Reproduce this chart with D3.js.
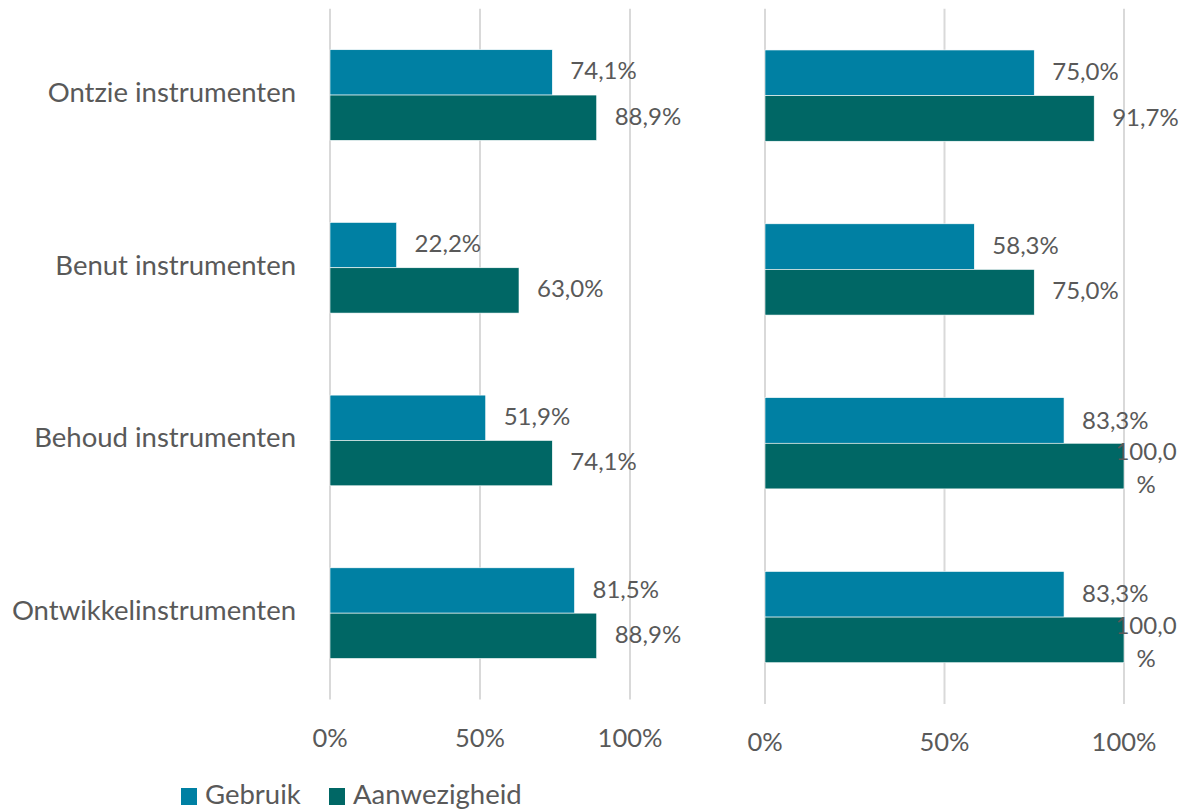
<!DOCTYPE html>
<html lang='nl'>
<head>
  <meta charset='UTF-8'>
  <title>Instrumenten</title>
  <style type='text/css'>
    body {
      margin: 0;
      background: #fff;
      font-family: Lato, sans-serif;
      color: #595959;
    }
    .grid line {
      stroke: #d9d9d9;
      stroke-width: 2px;
    }
    text {
      fill: #595959;
    }
  </style>
  <script type='text/javascript' src='https://d3js.org/d3.v7.min.js'></script>
</head>
<body>
  <script type='text/javascript'>
    const categories = [
      'Ontzie instrumenten',
      'Benut instrumenten',
      'Behoud instrumenten',
      'Ontwikkelinstrumenten',
    ]
    const seriesNames = ['Gebruik', 'Aanwezigheid']
    const colors = ['#0080a3', '#006765']
    const leftGebruik = [74.1, 22.2, 51.9, 81.5]
    const leftAanwezigheid = [88.9, 63.0, 74.1, 88.9]
    const rightGebruik = [75.0, 58.3, 83.3, 83.3]
    const rightAanwezigheid = [91.7, 75.0, 100.0, 100.0]
    const ticks = [0, 50, 100]

    const width = 1180
    const height = 810
    // letters vs digits: Lato digits run wider than the original font's
    const wordSize = '27.5px'
    const tickSize = '25.5px'
    const labelSize = '24px'

    const svg = d3.select('body').append('svg')
      .attr('width', width)
      .attr('height', height)

    const fmt = v => v.toFixed(1).replace('.', ',') + '%'

    const panels = [
      {x0: 330, x1: 630, y0: 8.7, y1: 699.5, tickY: 741, series: [leftGebruik, leftAanwezigheid]},
      {x0: 765, x1: 1124, y0: 8.7, y1: 704, tickY: 745, series: [rightGebruik, rightAanwezigheid]},
    ]

    panels.forEach((p, pi) => {
      const xScale = d3.scaleLinear().domain([0, 100]).range([p.x0, p.x1])
      const yScale = d3.scaleBand().domain(categories).range([p.y0, p.y1]).paddingInner(0.475).paddingOuter(0.2375)
      const sub = d3.scaleBand().domain(seriesNames).range([0, yScale.bandwidth()])

      const g = svg.append('g')

      g.append('g').attr('class', 'grid')
        .selectAll('line')
        .data(ticks)
        .enter().append('line')
        .attr('x1', d => xScale(d))
        .attr('x2', d => xScale(d))
        .attr('y1', p.y0)
        .attr('y2', p.y1)

      g.append('g')
        .selectAll('text')
        .data(ticks)
        .enter().append('text')
        .attr('x', d => xScale(d))
        .attr('y', p.tickY)
        .attr('text-anchor', 'middle')
        .attr('dominant-baseline', 'middle')
        .style('font-size', tickSize)
        .text(d => d + '%')

      if (pi === 0) {
        g.append('g')
          .selectAll('text')
          .data(categories)
          .enter().append('text')
          .attr('x', p.x0 - 34)
          .attr('y', d => yScale(d) + yScale.bandwidth() / 2)
          .attr('text-anchor', 'end')
          .attr('dominant-baseline', 'middle')
          .style('font-size', wordSize)
          .text(d => d)
      }

      p.series.forEach((values, si) => {
        const rows = categories.map((c, i) => ({cat: c, v: values[i]}))
        g.append('g')
          .selectAll('rect')
          .data(rows)
          .enter().append('rect')
          .attr('x', xScale(0))
          .attr('y', d => yScale(d.cat) + sub(seriesNames[si]))
          .attr('width', d => xScale(d.v) - xScale(0))
          .attr('height', sub.bandwidth())
          .style('fill', colors[si])
          .style('stroke', '#ffffff')
          .style('stroke-width', 0.6)

        const labels = g.append('g')
          .selectAll('text')
          .data(rows)
          .enter().append('text')
          .style('font-size', labelSize)
          .attr('dominant-baseline', 'middle')

        labels.each(function(d, i) {
          const t = d3.select(this)
          const cy = yScale(d.cat) + sub(seriesNames[si]) + sub.bandwidth() / 2
          const wrapped = p.series[1][i] >= 100
          if (si === 1 && wrapped) {
            // label does not fit right of the bar: wrapped on two lines
            t.attr('text-anchor', 'middle')
            const parts = fmt(d.v).split('%')
            t.append('tspan').attr('x', xScale(d.v) + 22).attr('y', cy - 12).text(parts[0])
            t.append('tspan').attr('x', xScale(d.v) + 22).attr('y', cy + 21).text('%')
          } else {
            t.attr('x', xScale(d.v) + 18)
              .attr('y', cy + (si === 0 && wrapped ? 2 : 1))
              .text(fmt(d.v))
          }
        })
      })
    })

    const legend = svg.append('g')
      .selectAll('g')
      .data(seriesNames)
      .enter().append('g')
      .attr('transform', (d, i) => `translate(${181 + i * 148},788)`)

    legend.append('rect')
      .attr('width', 16)
      .attr('height', 17)
      .style('fill', (d, i) => colors[i])

    legend.append('text')
      .attr('x', 24)
      .attr('y', 9)
      .attr('dominant-baseline', 'middle')
      .style('font-size', wordSize)
      .text(d => d)
  </script>
</body>
</html>
